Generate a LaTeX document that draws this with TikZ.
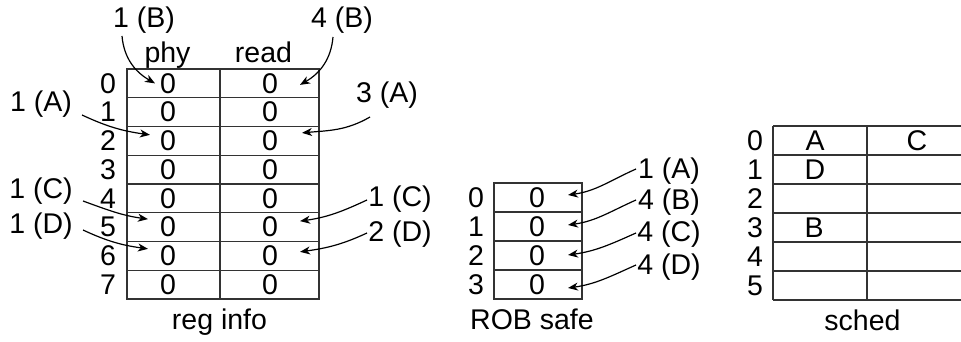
\documentclass[tikz,border=0pt]{standalone}
\usepackage{fontspec}
\setmainfont{Liberation Sans}
\usetikzlibrary{arrows.meta,calc}

\begin{document}
\begin{tikzpicture}[x=1pt,y=1pt,
  every node/.style={inner sep=0pt, outer sep=0pt, font=\fontsize{28.5}{34}\selectfont},
  grid/.style={draw=black!80, line width=1.3pt},
  ptr/.style={-{Stealth[length=10pt,width=8pt,inset=3pt]}, line width=1.2pt},
]
\useasboundingbox (0,0) rectangle (961,-342);
\clip (0,0) rectangle (961,-342);

% ---------- reg info table ----------
\def\rh{28.75}
\draw[grid] (127,-69) rectangle (319,-299);
\draw[grid] (220,-69) -- (220,-299);
\foreach \r in {1,...,7} \draw[grid] (127,{-69-\r*\rh}) -- (319,{-69-\r*\rh});
\foreach \r in {0,...,7} {
  \node (ri\r) at (108,{-69-(\r+0.5)*\rh}) {\r};
  \node (p\r) at (168,{-69-(\r+0.5)*\rh}) {0};
  \node (q\r) at (270,{-69-(\r+0.5)*\rh}) {0};
}
\node[anchor=base] (hphy) at (167.5,-63) {phy};
\node[anchor=base] (hread) at (263.5,-63) {read};
\node[anchor=base] (treg) at (219.5,-329) {reg info};

% pointers into reg info
\node (b1) at (144,-20) {1 (B)};
\node (b4) at (342,-20) {4 (B)};
\node (a1) at (41,-104) {1 (A)};
\node (a3) at (387,-95) {3 (A)};
\node (c1) at (41,-191) {1 (C)};
\node (d1) at (41,-226) {1 (D)};
\node (c1r) at (400,-199) {1 (C)};
\node (d2) at (400,-234) {2 (D)};

\draw[ptr] ($(b1)+(-22,-16)$) to[out=-85,in=150] ($(p0)+(-13,0)$);
\draw[ptr] ($(b4)+(-9,-17)$) to[out=-95,in=30] ($(q0)+(30,-1.5)$);
\draw[ptr] ($(a1)+(41,-11)$) to[out=-25,in=172] ($(p2)+(-18,6)$);
\draw[ptr] ($(a3)+(-17,-22)$) to[out=210,in=5] ($(q2)+(32,8)$);
\draw[ptr] ($(c1)+(42,-10)$) to[out=-20,in=172] ($(p5)+(-20,8)$);
\draw[ptr] ($(d1)+(42,-4)$) to[out=-25,in=172] ($(p6)+(-20,7)$);
\draw[ptr] ($(c1r)+(-33,-1)$) to[out=205,in=8] ($(q5)+(30,6)$);
\draw[ptr] ($(d2)+(-33,1)$) to[out=205,in=8] ($(q6)+(30,4)$);

% ---------- ROB safe table ----------
\draw[grid] (494,-183) rectangle (582,-299);
\foreach \r in {1,2,3} \draw[grid] (494,{-183-29*\r}) -- (582,{-183-29*\r});
\foreach \r in {0,...,3} {
  \node (rr\r) at (476,{-183-29*(\r+0.5)}) {\r};
  \node (s\r) at (537,{-183-29*(\r+0.5)}) {0};
}
\node[anchor=base] (trob) at (532,-329) {ROB safe};

\node (ra) at (669,-171) {1 (A)};
\node (rb) at (669,-202) {4 (B)};
\node (rc) at (669,-234) {4 (C)};
\node (rd) at (669,-267) {4 (D)};
\draw[ptr] ($(ra)+(-33,2)$) to[out=204,in=8] ($(s0)+(31,2.5)$);
\draw[ptr] ($(rb)+(-33,2)$) to[out=204,in=8] ($(s1)+(31,1.5)$);
\draw[ptr] ($(rc)+(-33,1)$) to[out=204,in=8] ($(s2)+(31,0.5)$);
\draw[ptr] ($(rd)+(-33,2)$) to[out=204,in=8] ($(s3)+(31,-3.5)$);

% ---------- sched table ----------
\foreach \r in {0,...,6} \draw[grid] (773,{-126-29*\r}) -- (965,{-126-29*\r});
\draw[grid] (773,-126) -- (773,-300);
\draw[grid] (867,-126) -- (867,-300);
\foreach \r in {0,...,5} \node (sr\r) at (755,{-126-29*(\r+0.5)}) {\r};
\node (sa) at (815,{-126-29*0.5}) {A};
\node (sc) at (917,{-126-29*0.5}) {C};
\node (sd) at (815,{-126-29*1.5}) {D};
\node (sb) at (814,{-126-29*3.5}) {B};
\node[anchor=base] (tsched) at (862.5,-330) {sched};
\end{tikzpicture}
\end{document}
